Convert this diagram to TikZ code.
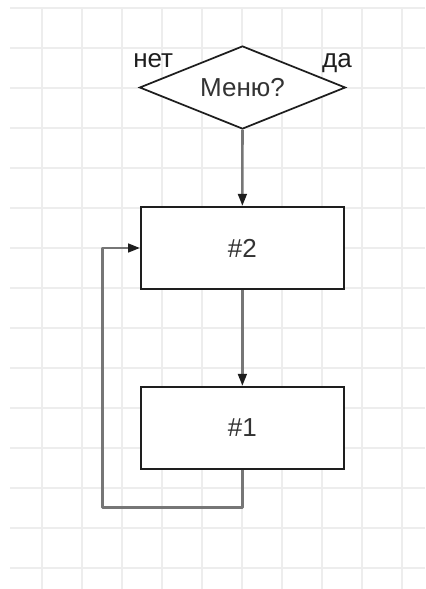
\documentclass[tikz,border=0pt]{standalone}
\usepackage{fontspec}
\setmainfont{Liberation Sans}
\usetikzlibrary{shapes.geometric,arrows.meta}
\definecolor{gridline}{RGB}{237,237,237}
\definecolor{wire}{RGB}{118,118,118}
\definecolor{ink}{RGB}{30,30,30}
\definecolor{txt}{RGB}{51,51,51}
\begin{document}
\begin{tikzpicture}[x=0.75pt,y=-0.75pt,
  labelfont/.style={font=\fontsize{19.5}{21}\selectfont},
  stepbox/.style={rectangle, draw=ink, line width=1.3pt, fill=white,
    minimum width=152.25pt, minimum height=61.9pt, inner sep=0pt,
    text=txt, labelfont},
  decision/.style={diamond, shape aspect=2.48, draw=ink, line width=1.3pt, fill=white,
    minimum width=154.5pt, minimum height=62.25pt, inner sep=0pt,
    text=txt, labelfont},
  branch/.style={inner sep=0pt, text=ink, labelfont},
  flow/.style={draw=wire, line width=1.9pt, line join=round,
    -{Triangle[length=9pt,width=6.5pt,color=ink]}},
  gridrule/.style={draw=gridline, line width=1.6pt}]

% page and background grid
\fill[white] (0,0) rectangle (425,589);
\useasboundingbox (0,0) rectangle (425,589);
\foreach \gx in {42,82,...,402} \draw[gridrule] (\gx,8) -- (\gx,589);
\foreach \gy in {8,48,...,568} \draw[gridrule] (10,\gy) -- (425,\gy);

% blocks
\node[decision] (menu) at (242.5,87.5) {Меню?};
\node[stepbox] (two) at (242.4,248) {\#2};
\node[stepbox] (one) at (242.4,428) {\#1};

% branch labels
\node[branch, anchor=base west] (no) at (133,67) {нет};
\node[branch, anchor=base east] (yes) at (352,67) {да};

% connectors
\coordinate (loopcorner) at (102.7,507.7);
\draw[flow] (menu.south) -- (two.north);
\draw[flow] (two.south) -- (one.north);
\draw[flow] (one.south) |- (loopcorner) |- (two.west);
\end{tikzpicture}
\end{document}
